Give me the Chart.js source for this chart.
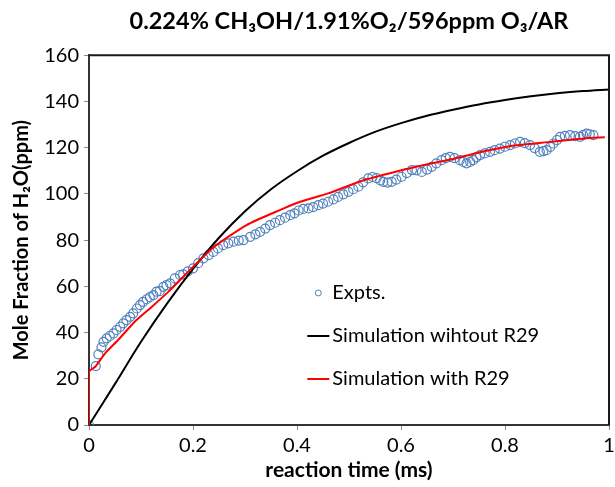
<!DOCTYPE html>
<html>
<head>
<meta charset="utf-8">
<script src="https://cdn.jsdelivr.net/npm/chart.js@4"></script>
<style>
html, body { margin: 0; padding: 0; background: #fff; }
</style>
</head>
<body>
<canvas id="myChart" width="615" height="487"></canvas>
<script>
// experiment (blue circles)
const exptTime = [
  0, 0.013, 0.018, 0.024, 0.028, 0.034, 0.040, 0.047, 0.053, 0.060,
  0.066, 0.072, 0.079, 0.085, 0.092, 0.098, 0.104, 0.111, 0.117, 0.124,
  0.130, 0.136, 0.143, 0.149, 0.156, 0.165, 0.175, 0.181, 0.190, 0.200,
  0.210, 0.220, 0.230, 0.239, 0.248, 0.258, 0.268, 0.278, 0.288, 0.297,
  0.310, 0.320, 0.329, 0.339, 0.348, 0.358, 0.367, 0.377, 0.387, 0.395,
  0.403, 0.412, 0.422, 0.431, 0.441, 0.450, 0.460, 0.470, 0.479, 0.489,
  0.499, 0.508, 0.518, 0.527, 0.537, 0.545, 0.553, 0.560, 0.566, 0.574,
  0.582, 0.591, 0.601, 0.611, 0.621, 0.630, 0.640, 0.650, 0.659, 0.668,
  0.678, 0.686, 0.694, 0.703, 0.713, 0.720, 0.726, 0.733, 0.739, 0.745,
  0.752, 0.761, 0.771, 0.780, 0.790, 0.800, 0.810, 0.819, 0.829, 0.838,
  0.848, 0.857, 0.867, 0.874, 0.880, 0.887, 0.893, 0.900, 0.906, 0.915,
  0.925, 0.935, 0.944, 0.950, 0.957, 0.963, 0.970
]
const exptH2O = [
  0, 25.5, 30.6, 33.6, 36.0, 37.5, 38.5, 39.6, 41.1, 42.5,
  44.0, 45.4, 46.8, 48.3, 50.4, 51.9, 53.3, 54.4, 55.3, 56.2,
  57.7, 57.9, 59.8, 60.5, 61.3, 63.4, 64.9, 65.2, 66.5, 67.8,
  70.0, 72.1, 73.5, 74.9, 76.4, 77.8, 78.6, 79.3, 79.8, 80.0,
  81.4, 82.5, 83.6, 85.0, 86.5, 87.5, 88.6, 89.7, 90.8, 91.6,
  92.8, 93.5, 93.7, 94.3, 95.1, 95.8, 96.6, 97.6, 98.7, 99.8,
  100.9, 102.0, 103.1, 105.0, 106.7, 107.3, 106.8, 105.8, 105.2, 104.9,
  105.2, 106.2, 107.4, 109.0, 110.3, 110.2, 109.5, 110.5, 111.7, 113.2,
  114.6, 115.5, 116.0, 115.5, 114.6, 113.8, 113.2, 113.8, 114.6, 115.8,
  116.8, 117.5, 118.2, 118.9, 119.6, 120.4, 121.1, 121.8, 122.5, 122.0,
  121.1, 119.8, 118.2, 118.5, 118.9, 120.3, 121.8, 123.3, 124.7, 125.1,
  125.4, 125.0, 124.7, 125.4, 126.1, 125.8, 125.4
]

// simulation without R29 (black)
const simTime = [0, 0.05, 0.1, 0.15, 0.2, 0.25, 0.3, 0.35, 0.4, 0.45, 0.5,
  0.55, 0.6, 0.65, 0.7, 0.75, 0.8, 0.85, 0.9, 0.95, 1.0]
const simNoR29 = [0, 17.8, 36, 52.5, 67.5, 81, 92.5, 102, 109.8, 116.5, 122,
  126.8, 130.6, 133.8, 136.4, 138.7, 140.6, 142.2, 143.5, 144.5, 145.2]

// simulation with R29 (red)
const r29Time = [0, 0, 0.012, 0.031, 0.056, 0.088, 0.121, 0.153, 0.185, 0.239,
  0.303, 0.367, 0.406, 0.46, 0.524, 0.588, 0.653, 0.704, 0.758, 0.822, 0.887, 0.951, 0.992]
const simR29 = [0, 23, 25.2, 31, 36.8, 44.7, 51.2, 57.7, 65, 76.8,
  86.5, 93, 96.6, 100.2, 105.6, 109.5, 112.9, 115.3, 118.3, 121, 122.5, 124, 124.5]

// axis ticks
const xTicks = ['0', '0.2', '0.4', '0.6', '0.8', '1']
const yTicks = ['0', '20', '40', '60', '80', '100', '120', '140', '160']

const FONT = 'Lato, "Open Sans", sans-serif'

function pts(xs, ys) {
  return xs.map((x, i) => ({x: x, y: ys[i]}))
}

// frame on top and right of plot area
const frame = {
  id: 'frame',
  afterDatasetsDraw(chart) {
    const {ctx, chartArea: a} = chart
    ctx.save()
    ctx.strokeStyle = '#1a1a1a'
    ctx.lineWidth = 2
    ctx.beginPath()
    ctx.moveTo(a.left, a.top)
    ctx.lineTo(a.right, a.top)
    ctx.lineTo(a.right, a.bottom)
    ctx.stroke()
    ctx.restore()
  }
}

// legend inside the plot
const inLegend = {
  id: 'inLegend',
  afterDraw(chart) {
    const {ctx, chartArea: a} = chart
    const w = a.right - a.left, h = a.bottom - a.top
    const x0 = a.left + 0.441 * w
    let y = a.top + 0.643 * h
    ctx.save()
    ctx.font = '20px ' + FONT
    ctx.fillStyle = '#000'
    ctx.textBaseline = 'middle'
    chart.data.datasets.forEach((ds) => {
      ctx.strokeStyle = ds.borderColor
      if (ds.showLine) {
        ctx.lineWidth = 2
        ctx.beginPath()
        ctx.moveTo(x0 - 11, y)
        ctx.lineTo(x0 + 11, y)
        ctx.stroke()
      } else {
        ctx.lineWidth = 1
        ctx.beginPath()
        ctx.arc(x0, y, 3, 0, Math.PI * 2)
        ctx.stroke()
      }
      ctx.fillText(ds.label, x0 + 14, y)
      y += 43
    })
    ctx.restore()
  }
}

const data = {
  datasets: [
    {
      label: 'Expts.',
      data: pts(exptTime, exptH2O),
      showLine: false,
      pointStyle: 'circle',
      pointRadius: 4.5,
      pointBorderWidth: 1.2,
      borderColor: '#4f81bd',
      backgroundColor: 'rgba(0,0,0,0)',
      order: 3,
    },
    {
      label: 'Simulation wihtout R29',
      data: pts(simTime, simNoR29),
      showLine: true,
      borderColor: '#000',
      borderWidth: 2,
      pointRadius: 0,
      tension: 0.3,
      order: 2,
    },
    {
      label: 'Simulation with R29',
      data: pts(r29Time, simR29),
      showLine: true,
      borderColor: '#ff0000',
      borderWidth: 2,
      pointRadius: 0,
      tension: 0.2,
      order: 1,
    },
  ],
}

const config = {
  type: 'scatter',
  data: data,
  plugins: [frame, inLegend],
  options: {
    responsive: false,
    animation: false,
    layout: { autoPadding: false, padding: { left: 0, right: 6, top: 0, bottom: 0 } },
    plugins: {
      legend: { display: false },
      tooltip: { enabled: false },
      title: {
        display: true,
        fullSize: false,
        text: '0.224% CH\u2083OH/1.91%O\u2082/596ppm O\u2083/AR',
        color: '#000',
        font: { family: FONT, size: 23.5, weight: 'bold' },
        padding: { top: 7, bottom: 20 },
      },
    },
    scales: {
      x: {
        type: 'linear',
        min: 0,
        max: 1,
        ticks: {
          stepSize: 0.2, color: '#000', font: { family: FONT, size: 20 }, padding: 4, maxRotation: 0,
          callback: (v, i) => xTicks[i],
        },
        grid: { drawOnChartArea: false, drawTicks: true, tickLength: 5, color: '#8c8c8c' },
        border: { color: '#333', width: 2 },
        title: {
          display: true,
          text: 'reaction time (ms)',
          color: '#000',
          font: { family: FONT, size: 21, weight: 'bold' },
          padding: { top: 0, bottom: 4 },
        },
        afterFit: (s) => { s.height = 62; s.paddingLeft = 0; s.paddingRight = 6 },
      },
      y: {
        min: 0,
        max: 160,
        ticks: {
          stepSize: 20, color: '#000', font: { family: FONT, size: 20 }, padding: 5,
          callback: (v, i) => yTicks[i],
        },
        grid: { drawOnChartArea: false, drawTicks: true, tickLength: 5, color: '#8c8c8c' },
        border: { color: '#333', width: 2 },
        title: {
          display: true,
          text: 'Mole Fraction of H\u2082O(ppm)',
          color: '#000',
          font: { family: FONT, size: 20, weight: 'bold' },
          padding: { top: 10, bottom: 0 },
        },
        afterFit: (s) => { s.width = 89 },
      },
    },
  },
}

const myChart = new Chart(document.getElementById('myChart').getContext('2d'), config)
</script>
</body>
</html>
